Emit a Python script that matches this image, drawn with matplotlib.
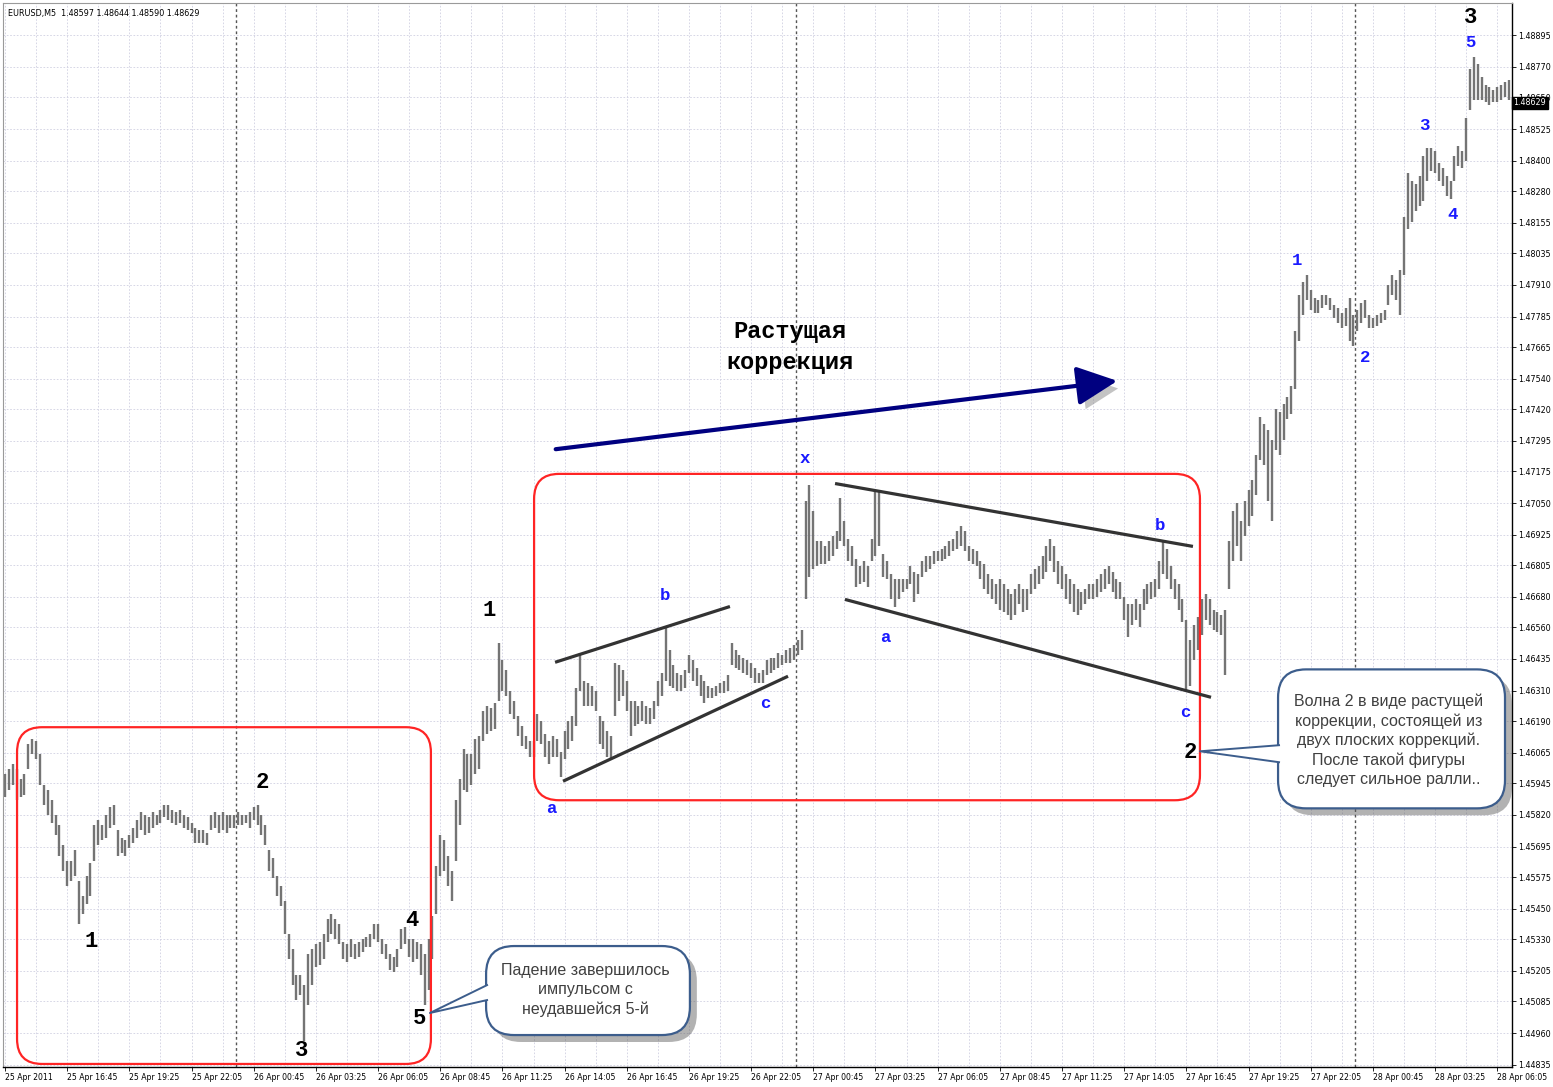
import numpy as np
import matplotlib.pyplot as plt
import matplotlib.patheffects as pe
from matplotlib.patches import FancyBboxPatch, FancyArrowPatch, Polygon
from matplotlib.transforms import IdentityTransform, blended_transform_factory

# EURUSD M5, 25-28 Apr 2011; one entry every two bars, high / low in pips (1e-4)
hi = [14598,14600,14602,14600,14596,14598,14610,14612,14611,14606,
      14594,14592,14588,14582,14578,14570,14564,14564,14568,14556,
      14550,14558,14563,14578,14580,14578,14582,14585,14586,14576,
      14573,14572,14574,14577,14580,14583,14582,14581,14583,14582,
      14584,14586,14586,14584,14583,14584,14582,14581,14579,14577,
      14576,14576,14575,14582,14583,14582,14583,14582,14582,14582,
      14583,14582,14582,14583,14585,14586,14582,14578,14568,14565,
      14558,14554,14548,14535,14529,14519,14519,14515,14527,14529,
      14531,14532,14535,14541,14543,14541,14539,14532,14531,14533,
      14531,14532,14533,14534,14535,14539,14539,14533,14531,14527,
      14526,14529,14537,14538,14533,14533,14532,14531,14527,14533,
      14542,14562,14574,14572,14566,14560,14588,14596,14608,14606,
      14606,14612,14613,14623,14625,14624,14626,14650,14643,14639,
      14631,14627,14621,14617,14613,14611,14611,14622,14619,14614,
      14611,14613,14612,14607,14615,14619,14621,14632,14646,14635,
      14634,14633,14631,14621,14619,14615,14613,14642,14641,14639,
      14635,14627,14627,14625,14627,14625,14624,14627,14635,14638,
      14656,14647,14641,14638,14637,14639,14645,14643,14640,14637,
      14635,14633,14632,14633,14634,14635,14637,14650,14647,14645,
      14644,14643,14642,14640,14638,14639,14643,14644,14644,14646,
      14645,14647,14648,14649,14651,14655,14706,14712,14702,14690,
      14690,14688,14690,14692,14694,14707,14698,14691,14688,14683,
      14680,14682,14680,14691,14710,14710,14685,14682,14677,14675,
      14675,14675,14675,14680,14678,14677,14682,14684,14684,14686,
      14686,14687,14688,14690,14691,14694,14696,14694,14688,14687,
      14686,14682,14681,14677,14675,14673,14675,14673,14671,14669,
      14671,14673,14671,14671,14677,14679,14680,14684,14688,14691,
      14688,14682,14680,14677,14675,14673,14671,14670,14671,14673,
      14673,14675,14677,14679,14680,14678,14675,14674,14668,14665,
      14665,14667,14665,14671,14673,14674,14675,14682,14690,14687,
      14680,14675,14673,14667,14659,14651,14657,14660,14667,14669,
      14667,14663,14662,14661,14663,14690,14702,14705,14698,14706,
      14710,14714,14724,14739,14736,14734,14730,14742,14741,14744,
      14747,14751,14773,14787,14792,14795,14789,14786,14785,14787,
      14787,14786,14783,14782,14780,14782,14786,14779,14781,14784,
      14785,14779,14778,14779,14780,14781,14791,14795,14793,14797,
      14818,14835,14832,14831,14834,14842,14845,14845,14844,14839,
      14837,14834,14832,14842,14846,14844,14857,14876,14881,14878,
      14873,14870,14869,14868,14869,14870,14871,14872]
lo = [14589,14592,14594,14588,14589,14590,14600,14606,14604,14594,
      14586,14582,14579,14574,14566,14560,14554,14556,14558,14539,
      14543,14547,14550,14564,14570,14572,14573,14577,14578,14566,
      14567,14566,14569,14571,14573,14576,14574,14575,14577,14578,
      14579,14581,14580,14579,14578,14579,14577,14576,14575,14571,
      14571,14571,14570,14576,14577,14575,14576,14575,14577,14577,
      14578,14578,14579,14577,14580,14578,14574,14570,14560,14557,
      14550,14546,14535,14525,14515,14509,14511,14493,14507,14515,
      14522,14523,14525,14532,14535,14533,14531,14525,14524,14526,
      14525,14526,14528,14530,14530,14533,14532,14527,14525,14521,
      14520,14522,14529,14531,14526,14524,14525,14519,14507,14513,
      14525,14543,14558,14560,14554,14548,14564,14578,14592,14591,
      14594,14598,14600,14611,14614,14615,14616,14627,14631,14629,
      14622,14620,14613,14609,14608,14605,14605,14611,14610,14605,
      14602,14605,14605,14597,14604,14608,14611,14617,14631,14625,
      14625,14625,14623,14610,14608,14605,14604,14621,14627,14629,
      14623,14613,14617,14618,14619,14618,14618,14620,14625,14629,
      14635,14633,14632,14631,14631,14632,14638,14635,14633,14629,
      14626,14628,14628,14629,14630,14630,14631,14641,14640,14639,
      14638,14637,14636,14634,14634,14634,14637,14638,14639,14640,
      14641,14642,14642,14643,14645,14647,14667,14676,14679,14680,
      14681,14681,14682,14684,14687,14690,14688,14682,14680,14672,
      14673,14674,14672,14682,14684,14688,14676,14675,14667,14664,
      14667,14670,14671,14673,14666,14669,14676,14678,14679,14681,
      14682,14682,14683,14684,14686,14687,14688,14686,14682,14681,
      14680,14675,14671,14669,14667,14665,14663,14662,14661,14659,
      14661,14665,14662,14663,14669,14671,14673,14675,14678,14682,
      14678,14673,14671,14667,14665,14662,14661,14663,14665,14667,
      14667,14668,14670,14671,14673,14670,14667,14667,14659,14652,
      14657,14659,14656,14663,14665,14667,14668,14671,14677,14675,
      14671,14667,14663,14658,14631,14633,14643,14647,14653,14659,
      14657,14655,14654,14653,14637,14671,14682,14688,14682,14692,
      14696,14700,14708,14722,14720,14706,14698,14726,14724,14730,
      14738,14740,14750,14769,14779,14785,14781,14780,14780,14782,
      14783,14781,14778,14776,14774,14775,14769,14767,14773,14776,
      14778,14774,14774,14775,14776,14777,14783,14787,14785,14779,
      14795,14813,14816,14820,14822,14824,14832,14836,14835,14832,
      14830,14826,14825,14832,14838,14837,14840,14860,14864,14864,
      14864,14863,14862,14863,14863,14864,14865,14864]
bar_no = np.arange(0, 776, 2)

xlabels = ["25 Apr 2011", "25 Apr 16:45", "25 Apr 19:25", "25 Apr 22:05",
           "26 Apr 00:45", "26 Apr 03:25", "26 Apr 06:05", "26 Apr 08:45",
           "26 Apr 11:25", "26 Apr 14:05", "26 Apr 16:45", "26 Apr 19:25",
           "26 Apr 22:05", "27 Apr 00:45", "27 Apr 03:25", "27 Apr 06:05",
           "27 Apr 08:45", "27 Apr 11:25", "27 Apr 14:05", "27 Apr 16:45",
           "27 Apr 19:25", "27 Apr 22:05", "28 Apr 00:45", "28 Apr 03:25",
           "28 Apr 06:05"]
yticks = [1.48895, 1.48770, 1.48650, 1.48525, 1.48400, 1.48280, 1.48155,
          1.48035, 1.47910, 1.47785, 1.47665, 1.47540, 1.47420, 1.47295,
          1.47175, 1.47050, 1.46925, 1.46805, 1.46680, 1.46560, 1.46435,
          1.46310, 1.46190, 1.46065, 1.45945, 1.45820, 1.45695, 1.45575,
          1.45450, 1.45330, 1.45205, 1.45085, 1.44960, 1.44835]
day_breaks = [119, 407, 695]
last_price = 1.48629

hi = np.array(hi) / 1e4
lo = np.array(lo) / 1e4

fig = plt.figure(figsize=(15.53, 10.87), dpi=100)
ax = fig.add_axes([3/1553, 20/1087, 1509/1553, 1064/1087])
ax.set_xlim(-1.03, 775.6)
ax.set_ylim(1.44826, 1.49022)

# grid + day separators
for v in np.arange(0, 776, 16):
    ax.axvline(v, color="#d0d0e2", lw=0.6, ls=(0, (2, 2)), zorder=0)
for p in yticks:
    ax.axhline(p, color="#d0d0e2", lw=0.6, ls=(0, (2, 2)), zorder=0)
for d in day_breaks:
    ax.axvline(d, color="#555555", lw=1.0, ls=(0, (2, 2)), zorder=1)

# bars
ax.vlines(bar_no, lo, hi, color="#747474", lw=1.7, zorder=2)

# axes look
ax.yaxis.tick_right()
ax.set_yticks(yticks)
ax.set_yticklabels([f"{v:.5f}" for v in yticks], fontsize=5.8)
ax.set_xticks(np.arange(0, 769, 32))
ax.set_xticklabels(xlabels, fontsize=5.6, ha="left")
ax.tick_params(axis="both", length=3, width=0.6, pad=1.5, colors="black")
for s in ["left", "top"]:
    ax.spines[s].set_color("#9a9a9a")
for s in ["right", "bottom"]:
    ax.spines[s].set_linewidth(1.0)

ax.text(0.003, 0.994, "EURUSD,M5  1.48597 1.48644 1.48590 1.48629",
        transform=ax.transAxes, fontsize=5.8, va="top", ha="left")
ax.text(1.001, last_price, "1.48629", transform=blended_transform_factory(ax.transAxes, ax.transData),
        fontsize=5.8, color="white", va="center", ha="left", clip_on=False, zorder=10,
        bbox=dict(boxstyle="square,pad=0.2", fc="black", ec="black"))


def rbox(x0, y0, x1, y1, r, **kw):
    (a, b), (c, d) = ax.transData.transform([(x0, y0), (x1, y1)])
    p = FancyBboxPatch((a, b), c - a, d - b, boxstyle=f"round,pad=0,rounding_size={r}",
                       transform=IdentityTransform(), clip_on=False, **kw)
    ax.add_artist(p)
    return p


# red boxes
rbox(6.2, 1.44838, 219.2, 1.46166, 25, fc="none", ec="#ff2424", lw=1.6, zorder=4)
rbox(272.3, 1.45878, 615.0, 1.47165, 25, fc="none", ec="#ff2424", lw=1.6, zorder=4)

# channels
chan = [((283.1, 1.46422), (373.1, 1.46642)),
        ((287.2, 1.45953), (403.0, 1.46367)),
        ((427.2, 1.47127), (611.4, 1.46879)),
        ((432.3, 1.46670), (620.7, 1.46284))]
for (xa, ya), (xb, yb) in chan:
    ax.plot([xa, xb], [ya, yb], color="#333333", lw=2.3, solid_capstyle="butt", zorder=5)

# arrow
arr = FancyArrowPatch((282.0, 1.47261), (573.9, 1.47533),
                      arrowstyle="-|>,head_length=1.25,head_width=0.6", mutation_scale=20,
                      color="#000080", lw=3.0, zorder=6,
                      path_effects=[pe.SimplePatchShadow(offset=(4, -5), shadow_rgbFace="#888888", alpha=0.5),
                                    pe.Normal()])
ax.add_patch(arr)
ax.text(404.0, 1.47726, "Растущая", fontsize=17, fontweight="bold", family="Liberation Mono",
        ha="center", va="center", zorder=7)
ax.text(404.0, 1.47604, "коррекция", fontsize=17, fontweight="bold", family="Liberation Mono",
        ha="center", va="center", zorder=7)

# wave labels
black_lbl = [("1", 44.3, 1.45319), ("2", 132.3, 1.45949), ("3", 152.9, 1.44893),
             ("4", 209.5, 1.45405), ("5", 213.1, 1.45019), ("1", 249.1, 1.46627),
             ("2", 609.9, 1.46067), ("3", 754.5, 1.48963)]
for s, x, y in black_lbl:
    ax.text(x, y, s, fontsize=16, fontweight="bold", family="Liberation Mono",
            ha="center", va="center", zorder=7)
blue_lbl = [("a", 281.0, 1.45846), ("b", 339.7, 1.46686), ("c", 391.1, 1.46260),
            ("x", 411.7, 1.47225), ("a", 452.9, 1.46520), ("b", 594.4, 1.46961),
            ("c", 607.3, 1.46225), ("1", 665.0, 1.48006), ("2", 700.0, 1.47623),
            ("3", 730.3, 1.48537), ("4", 745.2, 1.48187), ("5", 754.0, 1.48868)]
for s, x, y in blue_lbl:
    ax.text(x, y, s, fontsize=12.5, fontweight="bold", family="Liberation Mono",
            color="#1a1aff", ha="center", va="center", zorder=7)

# callouts
edge = "#3c5d8c"
shadow = [pe.SimplePatchShadow(offset=(5, -5), shadow_rgbFace="#555555", alpha=0.45), pe.Normal()]
callouts = [
    ((247.6, 1.44952, 352.5, 1.45303), (298.5, 1.45129),
     (218.7, 1.45039), (248.1, 1.45149), (248.1, 1.45090),
     "Падение завершилось\nимпульсом с\nнеудавшейся 5-й"),
    ((655.2, 1.45846, 772.0, 1.46394), (712.3, 1.46114),
     (615.0, 1.46071), (655.7, 1.46095), (655.7, 1.46028),
     "Волна 2 в виде растущей\nкоррекции, состоящей из\nдвух плоских коррекций.\n"
     "После такой фигуры\nследует сильное ралли.."),
]
for (x0, y0, x1, y1), (tx, ty), tip, b1, b2, txt in callouts:
    rbox(x0, y0, x1, y1, 28, fc="white", ec=edge, lw=1.6, zorder=8, path_effects=shadow)
    ax.add_patch(Polygon([tip, b1, (b1[0] + 3, b1[1]), (b2[0] + 3, b2[1]), b2], closed=True,
                         fc="white", ec="none", zorder=8.5, clip_on=False))
    ax.plot([b1[0], tip[0], b2[0]], [b1[1], tip[1], b2[1]], color=edge, lw=1.4, zorder=8.6)
    ax.text(tx, ty, txt, fontsize=11.5, color="#404040", ha="center", va="center",
            family="Liberation Sans", linespacing=1.33, zorder=9)

fig.savefig("out.png", dpi=100)
